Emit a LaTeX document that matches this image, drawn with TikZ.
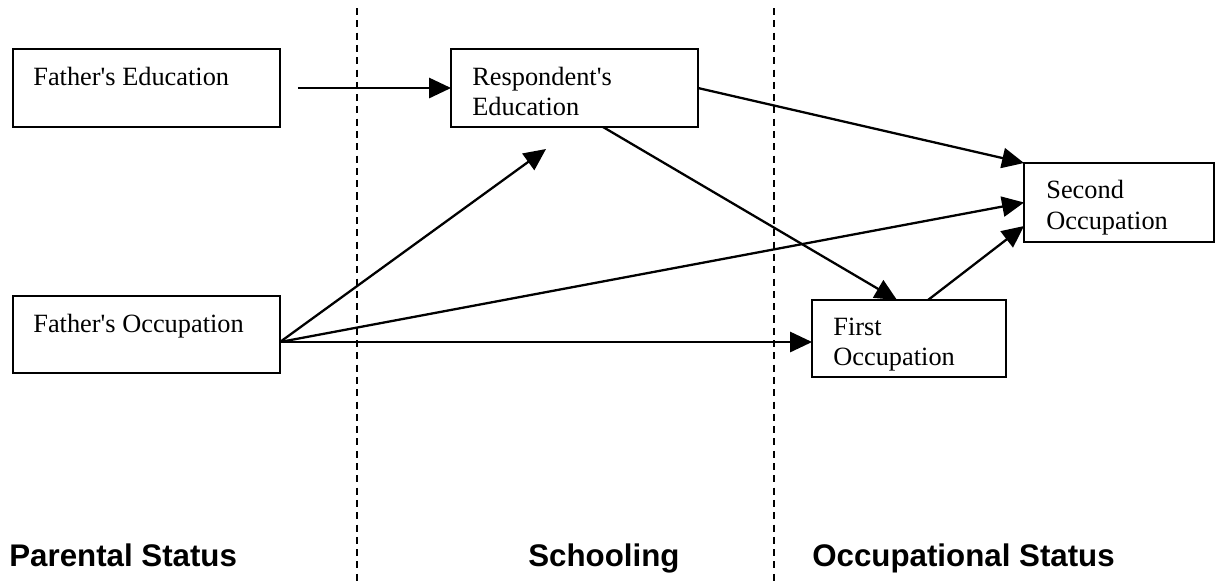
\documentclass[tikz,border=0pt]{standalone}
\usepackage{fontspec}
\setmainfont{Liberation Serif}
\newfontfamily\labelfont{Liberation Sans}
\usetikzlibrary{arrows.meta,calc}
\begin{document}
\begin{tikzpicture}[x=0.02cm,y=-0.02cm,
  box/.style={draw,line width=1.3pt,rectangle,inner sep=0pt,outer sep=0pt,minimum height=1.56cm},
  boxtext/.style={anchor=base west,inner sep=0pt,font=\fontsize{15}{17}\selectfont},
  arr/.style={line width=1.3pt,-{Triangle[length=12.5pt,width=11.5pt]}},
  divider/.style={line width=1pt,dash pattern=on 4pt off 3pt},
  section/.style={anchor=base west,inner sep=0pt,font=\labelfont\bfseries\fontsize{17.8}{20}\selectfont}]
\useasboundingbox (0,0) rectangle (1219,586);
% dividers
\coordinate (d1t) at (357,8);
\coordinate (d1b) at (357,586);
\coordinate (d2t) at (774,8);
\coordinate (d2b) at (774,586);
\draw[divider] (d1t) -- (d1b);
\draw[divider] (d2t) -- (d2b);
% boxes
\node[box,minimum width=5.34cm] (FE) at (146.5,88) {};
\node[box,minimum width=4.94cm] (RE) at (574.5,88) {};
\node[box,minimum width=3.8cm,minimum height=1.58cm] (SO) at (1119,202.5) {};
\node[box,minimum width=3.88cm,minimum height=1.54cm] (FO) at (909,338.5) {};
\node[box,minimum width=5.34cm,minimum height=1.54cm] (FOcc) at (146.5,334.5) {};
% texts
\node[boxtext] (feT) at (33,85) {Father\textquotesingle s Education};
\node[boxtext] (reT1) at (472,85) {Respondent\textquotesingle s};
\node[boxtext] (reT2) at (472,115) {Education};
\node[boxtext] (soT1) at (1046,198) {Second};
\node[boxtext] (soT2) at (1046,229) {Occupation};
\node[boxtext] (foT1) at (833,335) {First};
\node[boxtext] (foT2) at (833,365) {Occupation};
\node[boxtext] (foccT) at (33,332) {Father\textquotesingle s Occupation};
% section labels
\node[section] (ps) at (9,566) {Parental Status};
\node[section] (sc) at (528,566) {Schooling};
\node[section] (os) at (812,566) {Occupational Status};
% connectors
\coordinate (src) at (280,342);
\coordinate (t2) at (546,149);
\draw[arr] ($(FE.east)+(18,0)$) -- (RE.west);
\draw[arr] (src) -- (t2);
\draw[arr] (src) -- (SO.west);
\draw[arr] (src) -- (src -| FO.west);
\draw[arr] (RE.east) -- (SO.north west);
\draw[arr] ($(RE.south)+(28.5,0)$) -- ($(FO.north)+(-12,0)$);
\draw[arr] ($(FO.north)+(19,0)$) -- ($(SO.west)+(0,23.5)$);
\end{tikzpicture}
\end{document}
